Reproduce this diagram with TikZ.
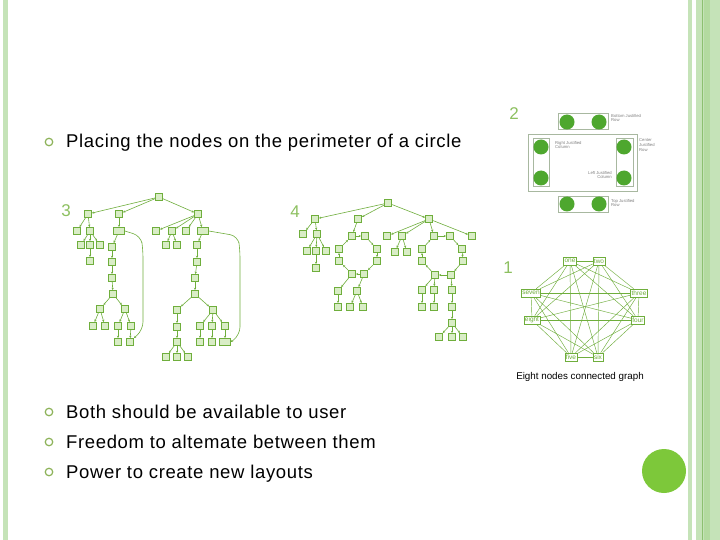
\documentclass[tikz,border=0pt]{standalone}
\usepackage{fontspec}
\setmainfont{Liberation Sans}
\newfontfamily\spacedfont[LetterSpace=3.5]{Liberation Sans}
\usetikzlibrary{arrows.meta}
\definecolor{stripe}{HTML}{C5E3B8}
\definecolor{stripemid}{HTML}{B3DAA0}
\definecolor{stripedark}{HTML}{8CC070}
\definecolor{bul}{HTML}{8DB359}
\definecolor{numc}{HTML}{8DC060}
\definecolor{tg}{HTML}{6FAE3C}
\definecolor{tfill}{HTML}{D9EDC6}
\definecolor{dotc}{HTML}{4EA72E}
\definecolor{bigc}{HTML}{7DC83A}
\definecolor{boxl}{HTML}{A8B8A0}
\tikzset{
  bullet/.style={draw=bul,line width=1.2pt,circle,inner sep=0pt,minimum size=7.5pt},
  btext/.style={anchor=base west,inner sep=0pt,font=\spacedfont\fontsize{18.5}{21}\selectfont},
  numlab/.style={text=numc,inner sep=0pt,font=\fontsize{17}{20}\selectfont},
  tb/.style={draw=tg,fill=tfill,line width=0.6pt,inner sep=0pt,minimum width=7.5pt,minimum height=7.5pt},
  tbw/.style={tb,minimum width=11pt},
  te/.style={draw=tg,line width=0.6pt,-{Stealth[length=2.2pt,width=2.2pt]}},
  gn/.style={draw=tg,fill=white,line width=0.5pt,inner sep=1pt,minimum height=8pt,text=tg,font=\fontsize{6.5}{6.5}\selectfont},
  ge/.style={draw=tg,line width=0.45pt},
  gdot/.style={circle,fill=dotc,inner sep=0pt,minimum size=15pt},
  gbox/.style={draw=boxl,line width=0.5pt},
  glab/.style={text=gray,font=\fontsize{4.2}{4.6}\selectfont,align=left,inner sep=0pt}
}
\begin{document}
\begin{tikzpicture}[x=1pt,y=-1pt]
\useasboundingbox (0,0) rectangle (720,540);
\fill[white] (0,0) rectangle (720,540);
% side stripes
\fill[stripe] (3,0) rectangle (8,540);
\fill[stripe] (688,0) rectangle (692,540);
\fill[stripe] (696,0) rectangle (720,540);
\fill[stripemid] (704,0) rectangle (710,540);
\draw[stripedark,line width=0.8pt] (702,0) -- (702,540);
% big circle
\node[circle,fill=bigc,inner sep=0pt,minimum size=44pt] (bigdot) at (664,471) {};
% bullets and text
\node[bullet] (b1) at (49,142) {};
\node[btext] (x1) at (66,148) {Placing the nodes on the perimeter of a circle};
\node[bullet] (b2) at (49,412) {};
\node[btext] (x2) at (66,418) {Both should be available to user};
\node[bullet] (b3) at (49,442) {};
\node[btext] (x3) at (66,448) {Freedom to altemate between them};
\node[bullet] (b4) at (49,472) {};
\node[btext] (x4) at (66,478) {Power to create new layouts};
% numbers
\node[numlab] (n2) at (514,114) {2};
\node[numlab] (n3) at (66,211) {3};
\node[numlab] (n4) at (295,212) {4};
\node[numlab] (n1) at (508,268) {1};
% ---------- figure 2 ----------
\node[gbox,minimum width=50pt,minimum height=16pt,inner sep=0pt] (topbox) at (583,121) {};
\node[gbox,minimum width=109pt,minimum height=57pt,inner sep=0pt] (bigbox) at (582.5,162.5) {};
\node[gbox,minimum width=16pt,minimum height=48pt,inner sep=0pt] (lbox) at (541,162) {};
\node[gbox,minimum width=17pt,minimum height=48pt,inner sep=0pt] (rbox) at (624.5,162) {};
\node[gbox,minimum width=50pt,minimum height=16pt,inner sep=0pt] (botbox) at (583,204) {};
\node[gdot] (d1) at (567,122) {};
\node[gdot] (d2) at (599,122) {};
\node[gdot] (d3) at (541,147) {};
\node[gdot] (d4) at (541,178) {};
\node[gdot] (d5) at (624,147) {};
\node[gdot] (d6) at (624,178) {};
\node[gdot] (d7) at (567,204) {};
\node[gdot] (d8) at (599,204) {};
\node[glab,anchor=west] (l1) at (611,118) {Bottom Justified\\Row};
\node[glab,anchor=west] (l2) at (555,145) {Right Justified\\Column};
\node[glab,anchor=west] (l3) at (639,145) {Center\\Justified\\Row};
\node[glab,anchor=east,align=right] (l4) at (612,175) {Left Justified\\Column};
\node[glab,anchor=west] (l5) at (611,203) {Top Justified\\Row};
% ---------- figure 1 ----------
\node[gn] (one) at (570,261) {one};
\node[gn] (two) at (599,261) {two};
\node[gn] (seven) at (531,293) {seven};
\node[gn] (three) at (639,293) {three};
\node[gn] (eight) at (532,320) {eight};
\node[gn] (four) at (638,320) {four};
\node[gn] (five) at (571,357) {five};
\node[gn] (six) at (598,357) {six};
\foreach \a/\b in {one/two,one/three,one/four,one/five,one/six,one/seven,one/eight,
  two/three,two/four,two/five,two/six,two/seven,two/eight,
  three/four,three/five,three/six,three/seven,three/eight,
  four/five,four/six,four/seven,four/eight,
  five/six,five/seven,five/eight,six/seven,six/eight,seven/eight}
  \draw[ge] (\a) -- (\b);
\node[inner sep=0pt,font=\fontsize{9.8}{11}\selectfont] (cap1) at (580,377) {Eight nodes connected graph};
% ---------- figure 3 ----------
\foreach \n/\x/\y in {t0/159/197,t1/88/214,t2/119/214,t3/198/214,
  t11/77/231,t12/90/231,t121/81/245,t122/90/245,t123/100/245,t1221/90/261,
  t211/112/247,t212/112/262,t213/112/278,t214/113/294,
  t2141/100/309,t2142/125/309,t21411/93/326,t21412/105/326,t21421/118/326,t21422/131/326,
  t214211/118/342,t214221/130/342,
  t31/156/231,t32/172/231,t33/186/231,t321/166/245,t322/177/245,
  t341/197/245,t342/197/262,t343/195/278,t344/195/294,
  t3441/177/310,t3442/213/310,t34411/177/327,t34412/177/342,
  t344121/166/357,t344122/177/357,t344123/188/357,
  t34421/200/326,t34422/212/326,t34423/225/326,
  t344211/200/342,t344221/212/342}
  \node[tb] (\n) at (\x,\y) {};
\node[tbw] (t21) at (119,231) {};
\node[tbw] (t34) at (203,231) {};
\node[tbw] (t344231) at (225,342) {};
\foreach \a/\b in {t0/t1,t0/t2,t0/t3,t1/t11,t1/t12,t12/t121,t12/t122,t12/t123,t122/t1221,
  t2/t21,t21/t211,t211/t212,t212/t213,t213/t214,t214/t2141,t214/t2142,
  t2141/t21411,t2141/t21412,t2142/t21421,t2142/t21422,t21421/t214211,t21422/t214221,
  t3/t31,t3/t32,t3/t33,t3/t34,t32/t321,t32/t322,t34/t341,t341/t342,t342/t343,t343/t344,
  t344/t3441,t344/t3442,t3441/t34411,t34411/t34412,t34412/t344121,t34412/t344122,t34412/t344123,
  t3442/t34421,t3442/t34422,t3442/t34423,t34421/t344211,t34422/t344221,t34423/t344231}
  \draw[te] (\a) -- (\b);
\draw[te,rounded corners=8pt] (t21.east) -- (141,236) -- (143,250) -- (143,330) -- (t214221.north east);
\draw[te,rounded corners=8pt] (t34.east) -- (238,236) -- (240,250) -- (240,335) -- (t344231.east);
% ---------- figure 4 ----------
\foreach \n/\x/\y in {f0/388/203,f1/315/219,f2/358/219,f3/429/219,
  f11/303/234,f12/317/234,f121/307/251,f122/316/251,f123/326/251,f1221/316/268,
  ra/352/236,rb/365/236,rc/377/249,rd/377/261,re/364/274,rf/352/274,rg/339/261,rh/339/249,
  f4/338/291,f41/338/307,f5/357/291,f51/350/307,f52/363/307,
  f31/387/236,f32/402/236,f34/472/236,f321/395/252,f322/407/252,
  sa/434/236,sb/450/236,sc/462/249,sd/463/261,se/451/275,sf/435/275,sg/422/261,sh/422/249,
  g1/422/290,g2/434/290,g3/452/290,g11/422/307,g21/434/307,g31/452/307,g311/452/323,
  g3111/439/337,g3112/452/337,g3113/463/337}
  \node[tb] (\n) at (\x,\y) {};
\foreach \a/\b in {f0/f1,f0/f2,f0/f3,f1/f11,f1/f12,f12/f121,f12/f122,f12/f123,f122/f1221,
  f2/ra,ra/rb,rb/rc,rc/rd,rd/re,re/rf,rf/rg,rg/rh,rh/ra,
  rf/f4,f4/f41,re/f5,f5/f51,f5/f52,
  f3/f31,f3/f32,f3/sa,f3/f34,f32/f321,f32/f322,
  sa/sb,sb/sc,sc/sd,sd/se,se/sf,sf/sg,sg/sh,sh/sa,
  sf/g1,sf/g2,se/g3,g1/g11,g2/g21,g3/g31,g31/g311,g311/g3111,g311/g3112,g311/g3113}
  \draw[te] (\a) -- (\b);
\end{tikzpicture}
\end{document}
